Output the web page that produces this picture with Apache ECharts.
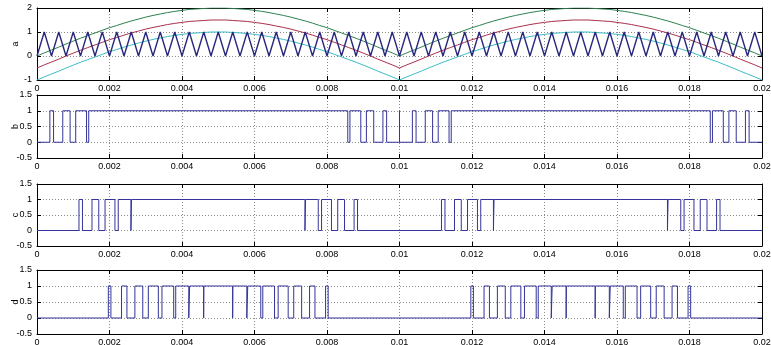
<!DOCTYPE html>
<html>
<head>
<meta charset="utf-8">
<script src="https://cdn.jsdelivr.net/npm/echarts@6/dist/echarts.min.js"></script>
<style>
  html, body { margin: 0; padding: 0; background: #fff; }
  #main { width: 771px; height: 345px; }
</style>
</head>
<body>
<div id="main"></div>
<script>
// sample times for the top panel (s)
const tSample = [
  0, 0.0002, 0.0004, 0.0006, 0.0008, 0.001, 0.0012, 0.0014, 0.0016, 0.0018,
  0.002, 0.0022, 0.0024, 0.0026, 0.0028, 0.003, 0.0032, 0.0034, 0.0036, 0.0038,
  0.004, 0.0042, 0.0044, 0.0046, 0.0048, 0.005, 0.0052, 0.0054, 0.0056, 0.0058,
  0.006, 0.0062, 0.0064, 0.0066, 0.0068, 0.007, 0.0072, 0.0074, 0.0076, 0.0078,
  0.008, 0.0082, 0.0084, 0.0086, 0.0088, 0.009, 0.0092, 0.0094, 0.0096, 0.0098,
  0.01, 0.0102, 0.0104, 0.0106, 0.0108, 0.011, 0.0112, 0.0114, 0.0116, 0.0118,
  0.012, 0.0122, 0.0124, 0.0126, 0.0128, 0.013, 0.0132, 0.0134, 0.0136, 0.0138,
  0.014, 0.0142, 0.0144, 0.0146, 0.0148, 0.015, 0.0152, 0.0154, 0.0156, 0.0158,
  0.016, 0.0162, 0.0164, 0.0166, 0.0168, 0.017, 0.0172, 0.0174, 0.0176, 0.0178,
  0.018, 0.0182, 0.0184, 0.0186, 0.0188, 0.019, 0.0192, 0.0194, 0.0196, 0.0198,
  0.02
];
// triangle carrier
const carrier = [
  0, 1, 0, 1, 0, 1, 0, 1, 0, 1,  0, 1, 0, 1, 0, 1, 0, 1, 0, 1,
  0, 1, 0, 1, 0, 1, 0, 1, 0, 1,  0, 1, 0, 1, 0, 1, 0, 1, 0, 1,
  0, 1, 0, 1, 0, 1, 0, 1, 0, 1,  0, 1, 0, 1, 0, 1, 0, 1, 0, 1,
  0, 1, 0, 1, 0, 1, 0, 1, 0, 1,  0, 1, 0, 1, 0, 1, 0, 1, 0, 1,
  0, 1, 0, 1, 0, 1, 0, 1, 0, 1,  0, 1, 0, 1, 0, 1, 0, 1, 0, 1,
  0
];
const refGreen = [
  0.00, 0.13, 0.25, 0.37, 0.50, 0.62, 0.74, 0.85, 0.96, 1.07,
  1.18, 1.27, 1.37, 1.46, 1.54, 1.62, 1.69, 1.75, 1.81, 1.86,
  1.90, 1.94, 1.96, 1.98, 2.00, 2.00, 2.00, 1.98, 1.96, 1.94,
  1.90, 1.86, 1.81, 1.75, 1.69, 1.62, 1.54, 1.46, 1.37, 1.27,
  1.18, 1.07, 0.96, 0.85, 0.74, 0.62, 0.50, 0.37, 0.25, 0.13,
  0.00, 0.13, 0.25, 0.37, 0.50, 0.62, 0.74, 0.85, 0.96, 1.07,
  1.18, 1.27, 1.37, 1.46, 1.54, 1.62, 1.69, 1.75, 1.81, 1.86,
  1.90, 1.94, 1.96, 1.98, 2.00, 2.00, 2.00, 1.98, 1.96, 1.94,
  1.90, 1.86, 1.81, 1.75, 1.69, 1.62, 1.54, 1.46, 1.37, 1.27,
  1.18, 1.07, 0.96, 0.85, 0.74, 0.62, 0.50, 0.37, 0.25, 0.13,
  0.00
];
const refRed = [
  -0.50, -0.37, -0.25, -0.13, 0.00, 0.12, 0.24, 0.35, 0.46, 0.57,
  0.68, 0.77, 0.87, 0.96, 1.04, 1.12, 1.19, 1.25, 1.31, 1.36,
  1.40, 1.44, 1.46, 1.48, 1.50, 1.50, 1.50, 1.48, 1.46, 1.44,
  1.40, 1.36, 1.31, 1.25, 1.19, 1.12, 1.04, 0.96, 0.87, 0.77,
  0.68, 0.57, 0.46, 0.35, 0.24, 0.12, 0.00, -0.13, -0.25, -0.37,
  -0.50, -0.37, -0.25, -0.13, 0.00, 0.12, 0.24, 0.35, 0.46, 0.57,
  0.68, 0.77, 0.87, 0.96, 1.04, 1.12, 1.19, 1.25, 1.31, 1.36,
  1.40, 1.44, 1.46, 1.48, 1.50, 1.50, 1.50, 1.48, 1.46, 1.44,
  1.40, 1.36, 1.31, 1.25, 1.19, 1.12, 1.04, 0.96, 0.87, 0.77,
  0.68, 0.57, 0.46, 0.35, 0.24, 0.12, 0.00, -0.13, -0.25, -0.37,
  -0.50
];
const refCyan = [
  -1.00, -0.87, -0.75, -0.63, -0.50, -0.38, -0.26, -0.15, -0.04, 0.07,
  0.18, 0.27, 0.37, 0.46, 0.54, 0.62, 0.69, 0.75, 0.81, 0.86,
  0.90, 0.94, 0.96, 0.98, 1.00, 1.00, 1.00, 0.98, 0.96, 0.94,
  0.90, 0.86, 0.81, 0.75, 0.69, 0.62, 0.54, 0.46, 0.37, 0.27,
  0.18, 0.07, -0.04, -0.15, -0.26, -0.38, -0.50, -0.63, -0.75, -0.87,
  -1.00, -0.87, -0.75, -0.63, -0.50, -0.38, -0.26, -0.15, -0.04, 0.07,
  0.18, 0.27, 0.37, 0.46, 0.54, 0.62, 0.69, 0.75, 0.81, 0.86,
  0.90, 0.94, 0.96, 0.98, 1.00, 1.00, 1.00, 0.98, 0.96, 0.94,
  0.90, 0.86, 0.81, 0.75, 0.69, 0.62, 0.54, 0.46, 0.37, 0.27,
  0.18, 0.07, -0.04, -0.15, -0.26, -0.38, -0.50, -0.63, -0.75, -0.87,
  -1.00
];

// switching instants and the level after each one
const bTime = [
  0, 0.000355, 0.000457, 0.000711, 0.000913, 0.001068, 0.001367, 0.001427,
  0.008573, 0.008633, 0.008932, 0.009087, 0.009289, 0.009543, 0.009645, 0.01, 0.01,
  0.010355, 0.010457, 0.010711, 0.010913, 0.011068, 0.011367, 0.011427,
  0.018573, 0.018633, 0.018932, 0.019087, 0.019289, 0.019543, 0.019645, 0.02
];
const bLevel = [
  0, 1, 0, 1, 0, 1, 0, 1,
  0, 1, 0, 1, 0, 1, 0, 1, 0,
  1, 0, 1, 0, 1, 0, 1,
  0, 1, 0, 1, 0, 1, 0, 0
];
const cTime = [
  0, 0.001158, 0.001254, 0.001517, 0.001704, 0.001877, 0.00215, 0.002241, 0.002591, 0.002608,
  0.007392, 0.007409, 0.007759, 0.00785, 0.008123, 0.008296, 0.008483, 0.008747, 0.008842,
  0.011158, 0.011254, 0.011517, 0.011704, 0.011877, 0.01215, 0.012241, 0.012591, 0.012608,
  0.017392, 0.017409, 0.017759, 0.01785, 0.018123, 0.018296, 0.018483, 0.018747, 0.018842, 0.02
];
const cLevel = [
  0, 1, 0, 1, 0, 1, 0, 1, 0, 1,
  0, 1, 0, 1, 0, 1, 0, 1, 0,
  1, 0, 1, 0, 1, 0, 1, 0, 1,
  0, 1, 0, 1, 0, 1, 0, 1, 0, 0
];
const dTime = [
  0, 0.001968, 0.002039, 0.002332, 0.002481, 0.0027, 0.002918, 0.003071, 0.003347,
  0.003447, 0.003771, 0.003827, 0.004187, 0.004212, 0.004597, 0.004603,
  0.005397, 0.005403, 0.005788, 0.005813, 0.006173, 0.006229, 0.006553, 0.006653,
  0.006929, 0.007082, 0.0073, 0.007519, 0.007668, 0.007961, 0.008032,
  0.011968, 0.012039, 0.012332, 0.012481, 0.0127, 0.012918, 0.013071, 0.013347,
  0.013447, 0.013771, 0.013827, 0.014187, 0.014212, 0.014597, 0.014603,
  0.015397, 0.015403, 0.015788, 0.015813, 0.016173, 0.016229, 0.016553, 0.016653,
  0.016929, 0.017082, 0.0173, 0.017519, 0.017668, 0.017961, 0.018032, 0.02
];
const dLevel = [
  0, 1, 0, 1, 0, 1, 0, 1, 0,
  1, 0, 1, 0, 1, 0, 1,
  0, 1, 0, 1, 0, 1, 0, 1,
  0, 1, 0, 1, 0, 1, 0,
  1, 0, 1, 0, 1, 0, 1, 0,
  1, 0, 1, 0, 1, 0, 1,
  0, 1, 0, 1, 0, 1, 0, 1,
  0, 1, 0, 1, 0, 1, 0, 0
];

const panelNames = ['a', 'b', 'c', 'd'];
const yRanges = [[-1, 2, 1], [-0.5, 1.5, 0.5], [-0.5, 1.5, 0.5], [-0.5, 1.5, 0.5]];

const zip = (xs, ys) => xs.map((x, i) => [x, ys[i]]);

const font = { fontFamily: 'Liberation Sans', fontSize: 9, color: '#000' };
const gridTops = [8, 95, 184, 270];
const gridHeights = [72, 63, 62, 64];

const grid = [], xAxis = [], yAxis = [];
gridTops.forEach((top, i) => {
  grid.push({ left: 37, right: 9, top: top, height: gridHeights[i], outerBoundsMode: 'none', containLabel: false });
  const xBase = {
    type: 'value', gridIndex: i, min: 0, max: 0.02, interval: 0.002,
    axisLine: { show: true, onZero: false, lineStyle: { color: '#000', width: 1 } },
    axisTick: { show: true, inside: true, length: 4, lineStyle: { color: '#000' } }
  };
  xAxis.push(Object.assign({}, xBase, {
    position: 'bottom',
    axisLabel: Object.assign({ margin: 4, formatter: v => String(+v.toFixed(4)) }, font),
    splitLine: { show: true, lineStyle: { color: '#8a8a8a', type: [1, 2], width: 1 } }
  }));
  xAxis.push(Object.assign({}, xBase, {
    position: 'top', axisLabel: { show: false }, splitLine: { show: false }
  }));
  const [ymin, ymax, yint] = yRanges[i];
  const yBase = {
    type: 'value', gridIndex: i, min: ymin, max: ymax, interval: yint,
    axisLine: { show: true, onZero: false, lineStyle: { color: '#000', width: 1 } },
    axisTick: { show: true, inside: true, length: 4, lineStyle: { color: '#000' } }
  };
  yAxis.push(Object.assign({}, yBase, {
    position: 'left',
    name: panelNames[i], nameLocation: 'middle', nameGap: 17, nameRotate: 90,
    nameMoveOverlap: false,
    nameTextStyle: font,
    axisLabel: Object.assign({ margin: 5 }, font),
    splitLine: { show: true, lineStyle: { color: '#8a8a8a', type: [1, 2], width: 1 } }
  }));
  yAxis.push(Object.assign({}, yBase, {
    position: 'right', axisLabel: { show: false }, splitLine: { show: false }
  }));
});

const line = (data, axis, color, width, step) => ({
  type: 'line', data: data, xAxisIndex: axis * 2, yAxisIndex: axis * 2,
  showSymbol: false, symbol: 'none', step: step || false,
  lineStyle: { color: color, width: width }, silent: true
});

const myChart = echarts.init(document.getElementById('main'), null, { renderer: 'canvas' });
myChart.setOption({
  animation: false,
  backgroundColor: '#fff',
  grid: grid,
  xAxis: xAxis,
  yAxis: yAxis,
  series: [
    line(zip(tSample, refGreen), 0, '#2f8050', 1),
    line(zip(tSample, refRed), 0, '#a8304a', 1),
    line(zip(tSample, refCyan), 0, '#3cbcc4', 1),
    line(zip(tSample, carrier), 0, '#28287e', 1.4),
    line(zip(bTime, bLevel), 1, '#34349a', 1, 'end'),
    line(zip(cTime, cLevel), 2, '#34349a', 1, 'end'),
    line(zip(dTime, dLevel), 3, '#34349a', 1, 'end')
  ]
});
</script>
</body>
</html>
